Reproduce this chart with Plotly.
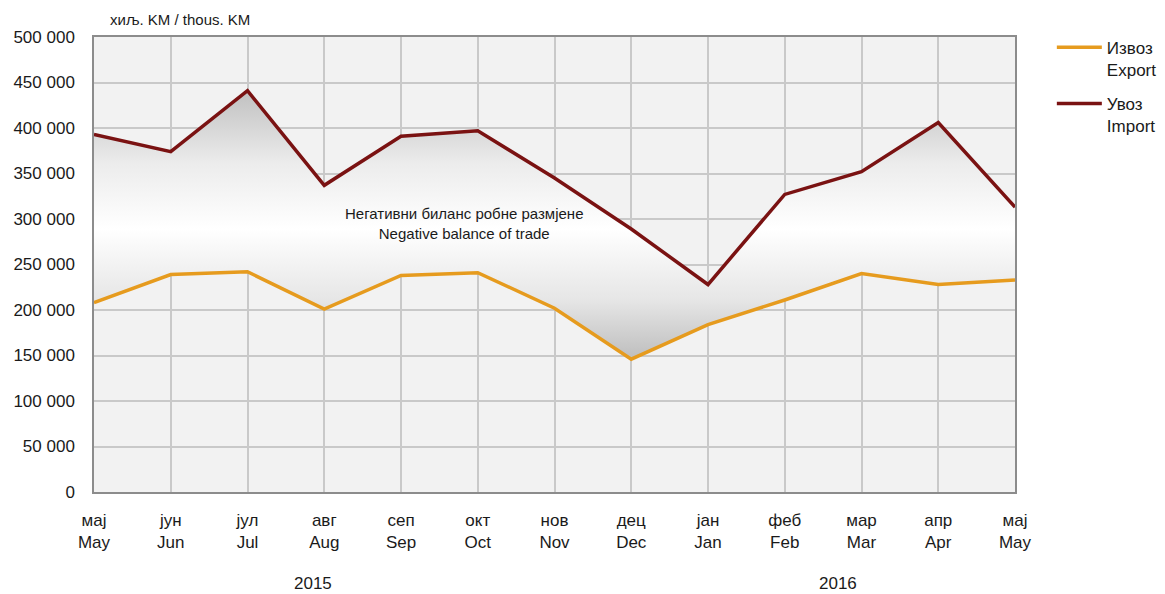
import plotly.graph_objects as go

months_cyr = ["мај", "јун", "јул", "авг", "сеп", "окт", "нов", "дец", "јан", "феб", "мар", "апр", "мај"]
months_en = ["May", "Jun", "Jul", "Aug", "Sep", "Oct", "Nov", "Dec", "Jan", "Feb", "Mar", "Apr", "May"]
export_vals = [208000, 239000, 242000, 201000, 238000, 241000, 202000, 146000, 184000, 211000, 240000, 228000, 233000]
import_vals = [393000, 374000, 441000, 337000, 391000, 397000, 345000, 289000, 228000, 327000, 352000, 406000, 313000]
y_ticks = [0, 50000, 100000, 150000, 200000, 250000, 300000, 350000, 400000, 450000, 500000]
y_tick_text = ["0", "50 000", "100 000", "150 000", "200 000", "250 000", "300 000", "350 000", "400 000", "450 000", "500 000"]
years = ["2015", "2016"]

FONT = "Liberation Sans Narrow, Arial Narrow, Liberation Sans, Arial, sans-serif"
EXPORT_C = "#E69B1E"
IMPORT_C = "#7A1212"
TXT = "#1a1a1a"

x = list(range(len(months_en)))
tick_labels = [f"{c}<br>{e}" for c, e in zip(months_cyr, months_en)]

fig = go.Figure()
# invisible baseline + gradient fill between export and import
fig.add_trace(go.Scatter(
    x=x, y=export_vals, mode="lines", showlegend=False, hoverinfo="skip",
    line=dict(width=0, color=EXPORT_C),
))
fig.add_trace(go.Scatter(
    x=x, y=import_vals, mode="lines", showlegend=False, hoverinfo="skip",
    line=dict(width=0, color=IMPORT_C),
    fill="tonexty",
    fillgradient=dict(
        type="vertical", start=145000, stop=445000,
        colorscale=[[0, "#bdbdbd"], [0.22, "#e6e6e6"], [0.48, "#ffffff"], [0.72, "#ececec"], [1, "#bebebe"]],
    ),
))
fig.add_trace(go.Scatter(
    x=x, y=export_vals, mode="lines", name="Извоз<br>Export", legendgroup="exp",
    line=dict(color=EXPORT_C, width=3.5),
))
fig.add_trace(go.Scatter(
    x=x, y=import_vals, mode="lines", name="Увоз<br>Import", legendgroup="imp",
    line=dict(color=IMPORT_C, width=3.5),
))

fig.add_annotation(
    x=4.82, y=295000, xref="x", yref="y",
    text="Негативни биланс робне размјене<br>Negative balance of trade",
    showarrow=False, font=dict(family=FONT, size=15, color=TXT), align="center",
)
fig.add_annotation(
    x=14 / 921, y=1.015, xref="paper", yref="paper", xanchor="left", yanchor="bottom",
    text="хиљ. KM / thous. KM", showarrow=False,
    font=dict(family=FONT, size=15, color=TXT),
)
for label, xpos in zip(years, [2.85, 9.7]):
    fig.add_annotation(
        x=xpos, y=-0.2, xref="x", yref="paper", yanchor="middle",
        text=label, showarrow=False, font=dict(family=FONT, size=17, color=TXT),
    )

# page body adds an 8px offset, so the figure is sized to fit the window
fig.update_layout(
    width=1157, height=586,
    margin=dict(l=86, r=150, t=29, b=102, autoexpand=False),
    paper_bgcolor="white", plot_bgcolor="#f2f2f2",
    font=dict(family=FONT, size=17, color=TXT),
    legend=dict(
        x=1.04, y=1.016, xanchor="left", yanchor="top",
        font=dict(family=FONT, size=17, color=TXT),
        bgcolor="rgba(0,0,0,0)", tracegroupgap=9, itemwidth=45,
        traceorder="grouped", valign="top",
    ),
    showlegend=True,
)
fig.update_xaxes(
    range=[0, 12], tickmode="array", tickvals=x, ticktext=tick_labels,
    showgrid=True, gridcolor="#c9c9c9", gridwidth=1.5,
    showline=True, linecolor="#8c8c8c", linewidth=1.5, mirror=True,
    ticks="", ticklabelstandoff=12, zeroline=False, automargin=False,
    tickfont=dict(family=FONT, size=17, color=TXT),
)
fig.update_yaxes(
    range=[0, 500000], tickmode="array", tickvals=y_ticks, ticktext=y_tick_text,
    showgrid=True, gridcolor="#c9c9c9", gridwidth=1.5,
    showline=True, linecolor="#8c8c8c", linewidth=1.5, mirror=True,
    ticks="", ticklabelstandoff=14, zeroline=False, automargin=False,
    tickfont=dict(family=FONT, size=17, color=TXT),
)

fig.write_html("out.html")
